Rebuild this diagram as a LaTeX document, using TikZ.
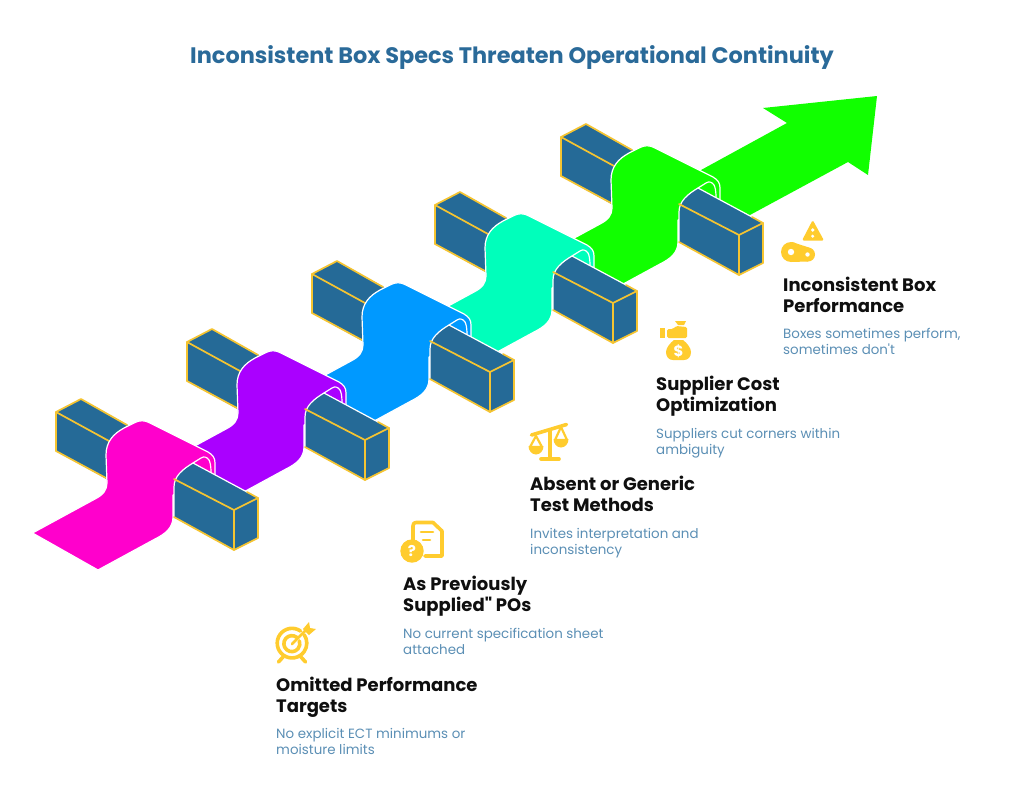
\documentclass[tikz,border=0pt]{standalone}
\usepackage{fontspec}
\setmainfont{Poppins}[Ligatures=TeXOff]
\definecolor{boxblue}{HTML}{256A97}
\definecolor{edgeyellow}{HTML}{F5C431}
\definecolor{iconyellow}{HTML}{FFCC2E}
\definecolor{titleblue}{HTML}{2A6A99}
\definecolor{descblue}{HTML}{5B8FB5}
\definecolor{headblack}{HTML}{0F0F0F}
\definecolor{ribpink}{HTML}{FF00CC}
\definecolor{ribpurple}{HTML}{AA00FF}
\definecolor{ribblue}{HTML}{0099FF}
\definecolor{ribteal}{HTML}{00FFBB}
\definecolor{ribgreen}{HTML}{11FF00}
\tikzset{
  boxedge/.style={draw=edgeyellow,line width=1.7pt,line join=round,line cap=round},
  whiteedge/.style={draw=white,line width=1.2pt,line join=round,line cap=round},
  headtext/.style={anchor=north west,inner sep=0pt,align=left,text=headblack,font=\fontsize{18}{21}\selectfont\bfseries},
  desctext/.style={anchor=north west,inner sep=0pt,align=left,text=descblue,font=\fontsize{13.4}{16}\selectfont},
  icon/.style={fill=iconyellow,draw=none},
  iconline/.style={draw=iconyellow,line width=3.6pt,line cap=round,line join=round},
  iconhole/.style={fill=white,draw=none}
}
\newcommand{\ribbonmodule}[3]{%
\begin{scope}[shift={(#1,#2)}]
  % back box
  \fill[boxblue] (56,412) -- (81,399) -- (135,429) -- (112,482) -- (56,451) -- cycle;
  \draw[boxedge] (56,451) -- (56,412) -- (81,399) -- (127,425);
  \draw[boxedge] (56,412) -- (109,441);
  \draw[boxedge] (56,451) -- (106,478);
  % ribbon
  \filldraw[fill=#3,whiteedge] (32.5,533) -- (95,499) .. controls (103,495) and (107,490) .. (107,483)
    -- (106,455) .. controls (106,442) and (113,434) .. (124,428) -- (134,423)
    .. controls (139,420) and (145,420) .. (150,423) -- (208,452)
    .. controls (213,455) and (215,458) .. (215,463) -- (215,482) -- (173,495) -- (173,517)
    .. controls (173,528) and (165,534) .. (155,539) -- (98,570) -- cycle;
  % inner fold
  \draw[whiteedge] (193,463) -- (201,458) .. controls (204,456) and (207,457) .. (209,460)
    .. controls (210,462) and (211,465) .. (211,473);
  % front box
  \fill[boxblue] (174,517) -- (174,487) .. controls (174,476) and (183,469) .. (193,463)
    -- (258,498) -- (258,538) -- (234,550) -- cycle;
  \draw[whiteedge] (174,517) -- (174,487) .. controls (174,476) and (183,469) .. (193,463) -- (247,492);
  \draw[boxedge] (174,479) -- (234,510) -- (258,498) -- (247,492);
  \draw[boxedge] (234,510) -- (234,550) -- (258,538) -- (258,498);
  \draw[boxedge] (234,550) -- (174,517);
\end{scope}}
\begin{document}
\begin{tikzpicture}[x=1pt,y=-1pt]
\useasboundingbox (0,0) rectangle (1024,795);
\fill[white] (0,0) rectangle (1024,795);
% arrow
\fill[ribgreen] (763,108) -- (877,96) -- (868,175) -- (848,162) -- (700,242) -- (670,187) -- (787,123) -- cycle;
\ribbonmodule{505}{-275}{ribgreen}
\ribbonmodule{379}{-207}{ribteal}
\ribbonmodule{256}{-138}{ribblue}
\ribbonmodule{131}{-70}{ribpurple}
\ribbonmodule{0}{0}{ribpink}
% title
\node[anchor=base,inner sep=0pt,text=titleblue,font=\fontsize{22.4}{26}\selectfont\bfseries] (title) at (512,63) {Inconsistent Box Specs Threaten Operational Continuity};
% labels
\node[headtext] (h1) at (276,677) {Omitted Performance\\Targets};
\node[desctext] (d1) at (276,728.5) {No explicit ECT minimums or\\moisture limits};
\node[headtext] (h2) at (403,576) {As Previously\\Supplied" POs};
\node[desctext] (d2) at (403,628.5) {No current specification sheet\\attached};
\node[headtext] (h3) at (530,476) {Absent or Generic\\Test Methods};
\node[desctext] (d3) at (530,528.5) {Invites interpretation and\\inconsistency};
\node[headtext] (h4) at (656,376) {Supplier Cost\\Optimization};
\node[desctext] (d4) at (656,428.5) {Suppliers cut corners within\\ambiguity};
\node[headtext] (h5) at (783,277) {Inconsistent Box\\Performance};
\node[desctext] (d5) at (783,328.5) {Boxes sometimes perform,\\sometimes don't};
% target icon
\draw[iconline] (300.5,631) arc[start angle=-55,end angle=-395,radius=14.8];
\draw[iconline] (297,637.5) arc[start angle=-50,end angle=-380,radius=8];
\draw[draw=iconyellow,line width=2.8pt,line cap=round] (292,644) -- (306,630);
\fill[icon] (303,629) -- (309,622) -- (310,628) -- (316,629) -- (309,635) -- cycle;
\draw[iconline] (283,657) -- (278.5,662);
\draw[iconline] (301,657) -- (305.5,662);
% document icon
\draw[iconline] (413,541) -- (413,526) .. controls (413,523.5) and (414,522.5) .. (416,522.5)
  -- (433,522.5) -- (442,531) -- (442,556) -- (425,556);
\draw[draw=iconyellow,line width=2.6pt,line cap=round] (421,532) -- (433,532);
\draw[draw=iconyellow,line width=2.6pt,line cap=round] (423,540) -- (430,540);
\fill[icon] (412,551) circle (11.7);
\node[inner sep=0pt,text=white,font=\fontsize{15}{15}\selectfont\bfseries] (qm) at (412,551) {?};
% scale icon
\draw[iconline] (531.5,435) -- (566.5,424.5);
\draw[iconline] (550,430) -- (550,458);
\draw[iconline] (541,459) -- (559,459);
\draw[draw=iconyellow,line width=2.2pt,line join=round] (536,436) -- (530,447) -- (542,447) -- cycle;
\fill[icon] (528.5,446) -- (543.5,446) arc[start angle=0,end angle=180,x radius=7.5,y radius=8.5] -- cycle;
\draw[draw=iconyellow,line width=2.2pt,line join=round] (561,427) -- (555,440) -- (567,440) -- cycle;
\fill[icon] (553.5,439) -- (568.5,439) arc[start angle=0,end angle=180,x radius=7.5,y radius=8.5] -- cycle;
% money icon
\fill[icon] (660,328) rectangle (665,338);
\fill[icon,rounded corners=1.5pt] (667,329) -- (673,329) -- (676,326) -- (687,327) -- (687,338) -- (667,338) -- cycle;
\fill[icon] (675,321) -- (686,321) -- (684,325) -- (678,325) -- cycle;
\fill[icon] (674,340) -- (683,340) .. controls (687,343) and (691,348) .. (691,352)
  .. controls (691,357) and (688,360) .. (684,360) -- (673,360) .. controls (669,360) and (666,357) .. (666,352)
  .. controls (666,348) and (670,343) .. (674,340) -- cycle;
\node[inner sep=0pt,text=white,font=\fontsize{15}{15}\selectfont\bfseries] (dollar) at (678.5,351) {\$};
% warning icon
\fill[icon,rounded corners=1.5pt] (812.7,220) -- (824,240.5) -- (802,240.5) -- cycle;
\fill[iconhole] (812.7,230) circle (1.9);
\fill[iconhole] (812.7,236.2) circle (1.7);
\fill[icon] (791,252) circle (10);
\fill[icon] (808,254.5) circle (7);
\fill[icon] (792,242) -- (809.5,247.7) -- (808,261.5) -- (791,262) -- cycle;
\fill[iconhole] (791,252) circle (3.2);
\fill[iconhole] (807.5,254.5) circle (2.2);
\end{tikzpicture}
\end{document}
